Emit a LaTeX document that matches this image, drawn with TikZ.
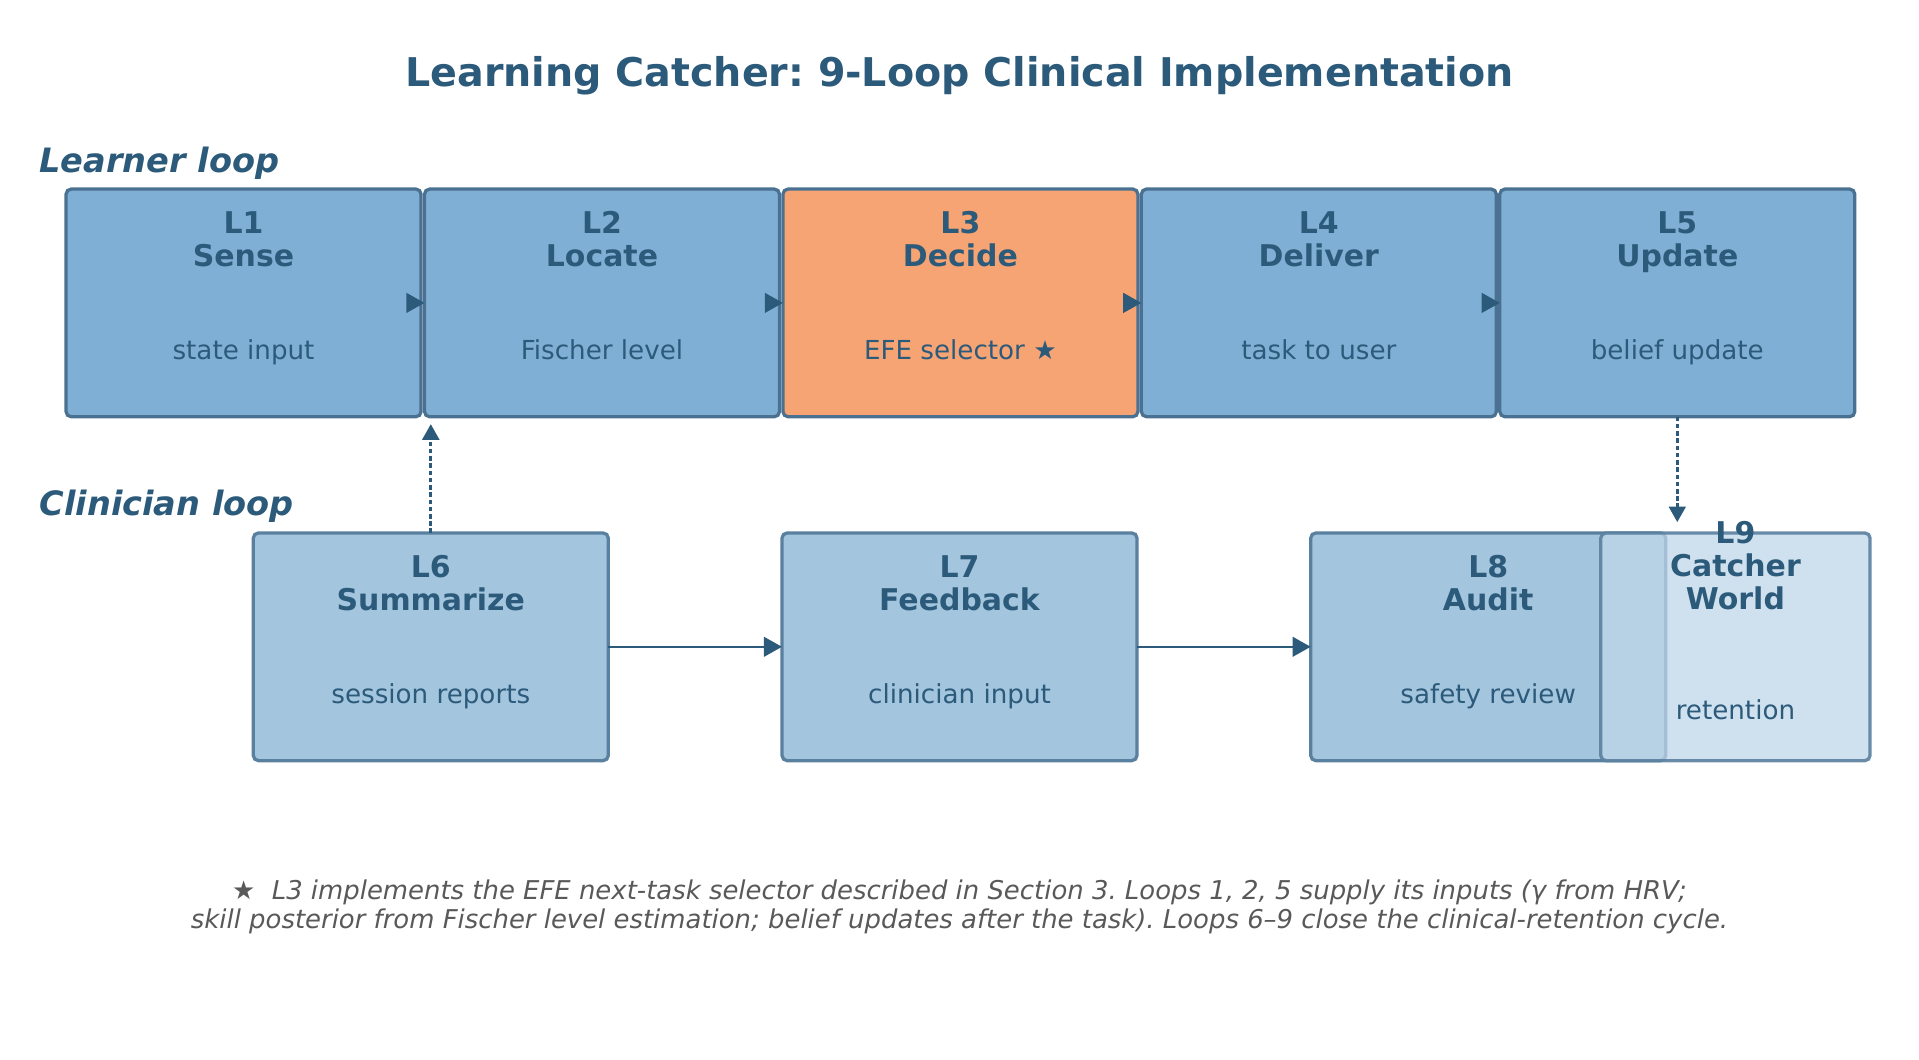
\documentclass[tikz,border=0pt]{standalone}
\usepackage{fontspec}
\setmainfont{DejaVu Sans}
\usepackage{xcolor}
\usetikzlibrary{positioning}
\usetikzlibrary{arrows.meta}
\definecolor{inkblue}{HTML}{2C5A7A}
\definecolor{edgeblue}{HTML}{4A7191}
\definecolor{edgesoft}{HTML}{5A80A0}
\definecolor{learnblue}{HTML}{7FAFD4}
\definecolor{clinblue}{HTML}{A3C5DE}
\definecolor{decideorange}{HTML}{F7A474}
\definecolor{catchfill}{HTML}{BED6E8}
\definecolor{notegray}{HTML}{595959}
\newcommand{\hd}[2]{#1\strut\\#2\strut}
\frenchspacing

\begin{document}
\begin{tikzpicture}[x=0.025cm, y=-0.025cm,
  loopbox/.style = {shape=rectangle, rounded corners=3pt, draw=edgeblue, outer sep=0pt,
    line width=1.9pt, minimum width=7.25cm, minimum height=4.65cm, inner sep=0pt},
  learner/.style = {loopbox, fill=learnblue},
  clinic/.style = {loopbox, fill=clinblue, draw=edgesoft},
  head/.style = {align=center, text=inkblue, font=\bfseries\fontsize{17.4}{19.3}\selectfont},
  body/.style = {text=inkblue, font=\fontsize{15.2}{18}\selectfont, text height=0.75em, text depth=0.22em},
  looplab/.style = {anchor=west, inner sep=0pt, text=inkblue, font=\bfseries\itshape\fontsize{19.5}{23}\selectfont},
  flow/.style = {-{Triangle[length=0.37cm, width=0.4cm]}, draw=inkblue, line width=1.5pt},
  feed/.style = {-{Triangle[length=0.32cm, width=0.34cm]}, draw=inkblue,
    line width=1.8pt, dash pattern=on 2.6pt off 1.6pt}]
  \useasboundingbox (0,0) rectangle (1568,866);

  \node[text=inkblue, font=\bfseries\fontsize{23}{27}\selectfont] (title) at (784,62)
    {Learning Catcher: 9-Loop Clinical Implementation};
  \node[looplab] (learnlab) at (32,133) {Learner loop};
  \node[looplab] (cliniclab) at (32,414) {Clinician loop};

  % learner loop
  \node[learner] (L1) at (199,247.5) {};
  \node[learner, right=0.07cm of L1] (L2) {};
  \node[learner, fill=decideorange, right=0.07cm of L2] (L3) {};
  \node[learner, right=0.07cm of L3] (L4) {};
  \node[learner, right=0.07cm of L4] (L5) {};
  \node[head] (L1h) at ([yshift=-1.11cm]L1.north) {\hd{L1}{Sense}};
  \node[head] (L2h) at ([yshift=-1.11cm]L2.north) {\hd{L2}{Locate}};
  \node[head] (L3h) at ([yshift=-1.11cm]L3.north) {\hd{L3}{Decide}};
  \node[head] (L4h) at ([yshift=-1.11cm]L4.north) {\hd{L4}{Deliver}};
  \node[head] (L5h) at ([yshift=-1.11cm]L5.north) {\hd{L5}{Update}};
  \node[body] (L1b) at ([yshift=-1.06cm]L1.center) {state input};
  \node[body] (L2b) at ([yshift=-1.06cm]L2.center) {Fischer level};
  \node[body] (L3b) at ([yshift=-1.06cm]L3.center) {EFE selector ★};
  \node[body] (L4b) at ([yshift=-1.06cm]L4.center) {task to user};
  \node[body] (L5b) at ([yshift=-1.06cm]L5.center) {belief update};
  \draw[flow] (L1.east) -- (L2.west);
  \draw[flow] (L2.east) -- (L3.west);
  \draw[flow] (L3.east) -- (L4.west);
  \draw[flow] (L4.east) -- (L5.west);

  % clinician loop
  \node[clinic] (L6) at (352,528.5) {};
  \node[clinic] (L7) at (784,528.5) {};
  \node[clinic] (L8) at (1216,528.5) {};
  \node[clinic, minimum width=5.5cm, fill=catchfill, fill opacity=0.74, draw opacity=0.9]
    (L9) at (1418,528.5) {};
  \node[head] (L6h) at ([yshift=-1.11cm]L6.north) {\hd{L6}{Summarize}};
  \node[head] (L7h) at ([yshift=-1.11cm]L7.north) {\hd{L7}{Feedback}};
  \node[head] (L8h) at ([yshift=-1.11cm]L8.north) {\hd{L8}{Audit}};
  \node[head] (L9h) at ([yshift=-0.75cm]L9.north) {L9\strut\\Catcher\strut\\World\strut};
  \node[body] (L6b) at ([yshift=-1.06cm]L6.center) {session reports};
  \node[body] (L7b) at ([yshift=-1.06cm]L7.center) {clinician input};
  \node[body] (L8b) at ([yshift=-1.06cm]L8.center) {safety review};
  \node[body] (L9b) at ([yshift=-1.39cm]L9.center) {retention};
  \draw[flow] (L6.east) -- (L7.west);
  \draw[flow] (L7.east) -- (L8.west);

  % links between the loops
  \draw[feed, shorten >=0.15cm] (L6.north) -- (L6.north |- L1.south);
  \draw[feed, shorten >=0.22cm] (L5.south) -- (L5.south |- L9.north);

  \node[text=notegray, align=center, font=\itshape\fontsize{15.05}{17}\selectfont] (note) at (784,741)
    {{\upshape ★}\ \ L3 implements the EFE next-task selector described in Section 3. Loops 1, 2, 5 supply its inputs (γ from HRV;\\
     skill posterior from Fischer level estimation; belief updates after the task). Loops 6–9 close the clinical-retention cycle.};
\end{tikzpicture}
\end{document}
